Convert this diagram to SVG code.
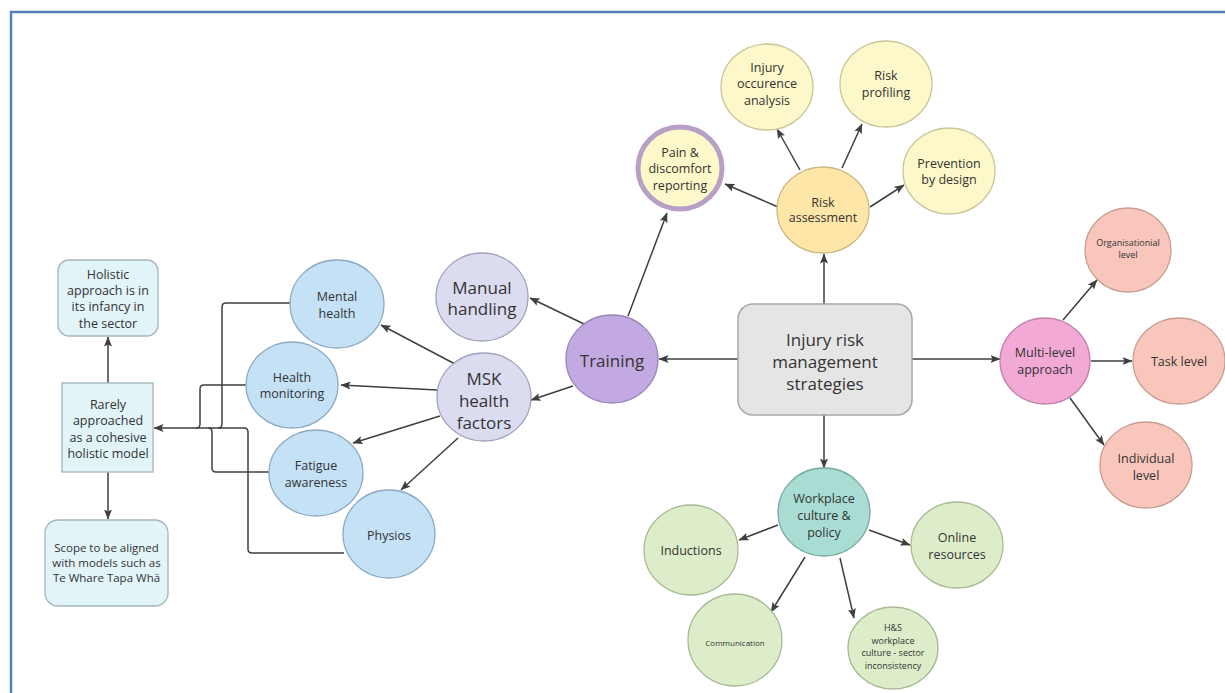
<svg xmlns="http://www.w3.org/2000/svg" width="1225" height="693" viewBox="0 0 1225 693">
  <style>
    text { font-family: "Open Sans", "Noto Sans", "Liberation Sans", sans-serif; fill: #333; text-anchor: middle; dominant-baseline: central; }
    .t17 { font-size: 17px; }
    .t13 { font-size: 12.5px; }
    .t12 { font-size: 11.5px; }
    .t9 { font-size: 9px; }
    .t8 { font-size: 8px; }
    .conn { fill: none; stroke: #3f3f3f; stroke-width: 1.5; }
    .arr { marker-end: url(#head); }
    .box { fill: #e2f4f8; stroke: #a3b6ba; stroke-width: 1.3; }
    .blue { fill: #c4e1f6; stroke: #8eaac2; stroke-width: 1.3; }
    .lav { fill: #dcdcf1; stroke: #a2a2ba; stroke-width: 1.3; }
    .purple { fill: #c3a9e1; stroke: #9a86b8; stroke-width: 1.3; }
    .yellow { fill: #fdf8c9; stroke: #c9c59a; stroke-width: 1.3; }
    .amber { fill: #fde6a7; stroke: #ccb884; stroke-width: 1.3; }
    .flagged { stroke: #b89fc6; stroke-width: 5; }
    .pink { fill: #f2a9d6; stroke: #c283aa; stroke-width: 1.3; }
    .salmon { fill: #f9c6bb; stroke: #c89c92; stroke-width: 1.3; }
    .teal { fill: #a9ddd4; stroke: #79aaa2; stroke-width: 1.3; }
    .green { fill: #ddedc9; stroke: #a9b995; stroke-width: 1.3; }
    .root { fill: #e5e5e5; stroke: #a8a8a8; stroke-width: 1.5; }
  </style>
  <defs>
    <marker id="head" markerUnits="userSpaceOnUse" markerWidth="10" markerHeight="9" refX="9.5" refY="4.5" orient="auto">
      <path d="M0,0.5 L10,4.5 L0,8.5 L2,4.5 z" fill="#3f3f3f"/>
    </marker>
  </defs>

  <rect width="1225" height="693" fill="#ffffff"/>
  <!-- page frame -->
  <path d="M11,693 V12 H1225" fill="none" stroke="#4f81bd" stroke-width="2.5"/>

  <g id="connectors">
    <!-- left bundle into the holistic-model box -->
    <path class="conn" d="M290,303 H226 Q222,303 222,307 V424 Q222,428 218,428"/>
    <path class="conn" d="M246,385 H204 Q200,385 200,389 V424 Q200,428 196,428"/>
    <path class="conn" d="M269,472 H216 Q212,472 212,468 V432 Q212,428 208,428"/>
    <path class="conn" d="M344,553 H252 Q248,553 248,549 V432 Q248,428 244,428"/>
    <path class="conn arr" d="M244,428 H154"/>
    <path class="conn arr" d="M108,383 V337"/>
    <path class="conn arr" d="M108,472 V519"/>

    <!-- from the central box -->
    <path class="conn arr" d="M738,359 H659"/>
    <path class="conn arr" d="M912,359 H1000"/>
    <path class="conn arr" d="M824,304 V254"/>
    <path class="conn arr" d="M824,415 V468"/>

    <!-- risk assessment -->
    <path class="conn arr" d="M800,170 L777,129"/>
    <path class="conn arr" d="M842,168 L862,124"/>
    <path class="conn arr" d="M870,207 L904,185"/>
    <path class="conn arr" d="M778,207 L725,184"/>

    <!-- training -->
    <path class="conn arr" d="M628,316 L667,213"/>
    <path class="conn arr" d="M584,324 L530,298"/>
    <path class="conn arr" d="M573,386 L531,400"/>

    <!-- MSK health factors -->
    <path class="conn arr" d="M455,364 L381,325"/>
    <path class="conn arr" d="M437,390 L341,385"/>
    <path class="conn arr" d="M440,416 L353,443"/>
    <path class="conn arr" d="M458,438 L401,490"/>

    <!-- multi-level approach -->
    <path class="conn arr" d="M1063,320 L1097,280"/>
    <path class="conn arr" d="M1091,361 H1132"/>
    <path class="conn arr" d="M1070,398 L1104,445"/>

    <!-- workplace culture & policy -->
    <path class="conn arr" d="M778,525 L739,540"/>
    <path class="conn arr" d="M869,530 L910,545"/>
    <path class="conn arr" d="M805,557 L771,612"/>
    <path class="conn arr" d="M840,558 L854,618"/>
  </g>

  <g id="holistic-infancy">
    <rect class="box" x="58" y="260" width="100" height="76" rx="11"/>
    <text class="t13" x="108" y="274">Holistic</text>
    <text class="t13" x="108" y="290">approach is in</text>
    <text class="t13" x="108" y="306">its infancy in</text>
    <text class="t13" x="108" y="323">the sector</text>
  </g>
  <g id="rarely-approached">
    <rect class="box" x="62" y="383" width="91" height="89"/>
    <text class="t13" x="108" y="404">Rarely</text>
    <text class="t13" x="108" y="420">approached</text>
    <text class="t13" x="108" y="437">as a cohesive</text>
    <text class="t13" x="108" y="453">holistic model</text>
  </g>
  <g id="scope-aligned">
    <rect class="box" x="45" y="520" width="123" height="86" rx="13"/>
    <text class="t12" x="106.5" y="547">Scope to be aligned</text>
    <text class="t12" x="106.5" y="562">with models such as</text>
    <text class="t12" x="106.5" y="577">Te Whare Tapa Whā</text>
  </g>

  <g id="mental-health">
    <ellipse class="blue" cx="337" cy="304" rx="47" ry="44"/>
    <text class="t13" x="337" y="296">Mental</text>
    <text class="t13" x="337" y="313">health</text>
  </g>
  <g id="health-monitoring">
    <ellipse class="blue" cx="292" cy="385" rx="46" ry="43"/>
    <text class="t13" x="292" y="377">Health</text>
    <text class="t13" x="292" y="393">monitoring</text>
  </g>
  <g id="fatigue-awareness">
    <ellipse class="blue" cx="316" cy="473" rx="47" ry="43"/>
    <text class="t13" x="316" y="465">Fatigue</text>
    <text class="t13" x="316" y="482">awareness</text>
  </g>
  <g id="physios">
    <ellipse class="blue" cx="389" cy="534" rx="46" ry="44"/>
    <text class="t13" x="389" y="535">Physios</text>
  </g>

  <g id="manual-handling">
    <ellipse class="lav" cx="482" cy="297" rx="46" ry="44"/>
    <text class="t17" x="482" y="287">Manual</text>
    <text class="t17" x="482" y="308">handling</text>
  </g>
  <g id="msk-health-factors">
    <ellipse class="lav" cx="484" cy="397" rx="47" ry="44"/>
    <text class="t17" x="484" y="378">MSK</text>
    <text class="t17" x="484" y="400">health</text>
    <text class="t17" x="484" y="422">factors</text>
  </g>
  <g id="training">
    <ellipse class="purple" cx="612" cy="359" rx="46" ry="44"/>
    <text class="t17" x="612" y="360">Training</text>
  </g>

  <g id="injury-risk-management">
    <rect class="root" x="738" y="304" width="174" height="111" rx="15"/>
    <text class="t17" x="825" y="339">Injury risk</text>
    <text class="t17" x="825" y="361">management</text>
    <text class="t17" x="825" y="383">strategies</text>
  </g>

  <g id="risk-assessment">
    <ellipse class="amber" cx="823" cy="210" rx="46" ry="43"/>
    <text class="t13" x="823" y="202">Risk</text>
    <text class="t13" x="823" y="217">assessment</text>
  </g>
  <g id="injury-occurence-analysis">
    <ellipse class="yellow" cx="767" cy="87" rx="46" ry="43"/>
    <text class="t13" x="767" y="67">Injury</text>
    <text class="t13" x="767" y="83">occurence</text>
    <text class="t13" x="767" y="100">analysis</text>
  </g>
  <g id="risk-profiling">
    <ellipse class="yellow" cx="886" cy="84" rx="46" ry="43"/>
    <text class="t13" x="886" y="75">Risk</text>
    <text class="t13" x="886" y="92">profiling</text>
  </g>
  <g id="prevention-by-design">
    <ellipse class="yellow" cx="949" cy="171" rx="46" ry="43"/>
    <text class="t13" x="949" y="163">Prevention</text>
    <text class="t13" x="949" y="179">by design</text>
  </g>
  <g id="pain-discomfort-reporting">
    <ellipse class="yellow flagged" cx="680" cy="168" rx="42" ry="41"/>
    <text class="t13" x="680" y="152">Pain &amp;</text>
    <text class="t13" x="680" y="168">discomfort</text>
    <text class="t13" x="680" y="185">reporting</text>
  </g>

  <g id="multi-level-approach">
    <ellipse class="pink" cx="1045" cy="361" rx="45" ry="43"/>
    <text class="t13" x="1045" y="352">Multi-level</text>
    <text class="t13" x="1045" y="369">approach</text>
  </g>
  <g id="organisational-level">
    <ellipse class="salmon" cx="1128" cy="250" rx="43" ry="42"/>
    <text class="t9" x="1128" y="242">Organisationial</text>
    <text class="t9" x="1128" y="254">level</text>
  </g>
  <g id="task-level">
    <ellipse class="salmon" cx="1179" cy="361" rx="46" ry="43"/>
    <text class="t13" x="1179" y="361">Task level</text>
  </g>
  <g id="individual-level">
    <ellipse class="salmon" cx="1146" cy="465" rx="46" ry="43"/>
    <text class="t13" x="1146" y="458">Individual</text>
    <text class="t13" x="1146" y="475">level</text>
  </g>

  <g id="workplace-culture-policy">
    <ellipse class="teal" cx="824" cy="512" rx="46" ry="44"/>
    <text class="t13" x="824" y="498">Workplace</text>
    <text class="t13" x="824" y="515">culture &amp;</text>
    <text class="t13" x="824" y="532">policy</text>
  </g>
  <g id="inductions">
    <ellipse class="green" cx="691" cy="550" rx="47" ry="45"/>
    <text class="t13" x="691" y="550">Inductions</text>
  </g>
  <g id="online-resources">
    <ellipse class="green" cx="957" cy="545" rx="46" ry="43"/>
    <text class="t13" x="957" y="537">Online</text>
    <text class="t13" x="957" y="554">resources</text>
  </g>
  <g id="communication">
    <ellipse class="green" cx="735" cy="640" rx="47" ry="46"/>
    <text class="t8" x="735" y="642">Communication</text>
  </g>
  <g id="hs-workplace-culture">
    <ellipse class="green" cx="893" cy="648" rx="45" ry="41"/>
    <text class="t9" x="893" y="627">H&amp;S</text>
    <text class="t9" x="893" y="640">workplace</text>
    <text class="t9" x="893" y="652">culture - sector</text>
    <text class="t9" x="893" y="665">inconsistency</text>
  </g>
</svg>
